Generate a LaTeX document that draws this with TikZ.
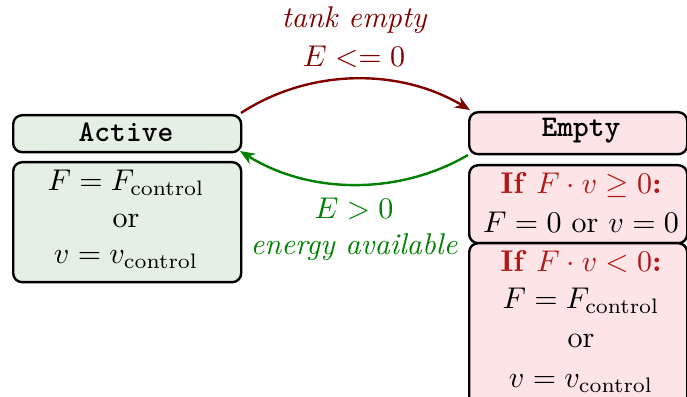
\documentclass[tikz,border=0pt]{standalone}
\usetikzlibrary{arrows.meta}
\definecolor{darkred}{RGB}{128,0,0}
\definecolor{ifred}{RGB}{178,24,24}
\definecolor{darkgreen}{RGB}{0,128,0}
\definecolor{greenfill}{RGB}{229,240,229}
\definecolor{redfill}{RGB}{253,228,230}
\def\pxu{0.3333pt}
\tikzset{
  box/.style={draw=black, line width=0.8pt, rounded corners=3pt, align=center, inner sep=0pt, anchor=north west},
  activebox/.style={box, fill=greenfill},
  emptybox/.style={box, fill=redfill},
  trans/.style={line width=0.8pt, -{Stealth[length=5pt,width=4pt]}},
  lbl/.style={inner sep=0pt, anchor=base},
}
\newcommand{\iftext}[1]{{\color{ifred}\textbf{If} $#1$\textbf{:}}}
\begin{document}
\begin{tikzpicture}[x=0.3333pt,y=-0.3333pt]
\useasboundingbox (0,0) rectangle (687,397);
% Active
\node[activebox, minimum width=228*\pxu, minimum height=37*\pxu] (acthead) at (12,114) {};
\node[lbl] (acttxt) at (126,142) {\ttfamily\bfseries Active};
\node[activebox, minimum width=228*\pxu, minimum height=120*\pxu] (actbody) at (12,161) {};
\node[lbl] (actl1) at (126,191) {$F = F_{\mathrm{control}}$};
\node[lbl] (actl2) at (126,228) {or};
\node[lbl] (actl3) at (126,264) {$v = v_{\mathrm{control}}$};
% Empty
\node[emptybox, minimum width=218*\pxu, minimum height=42*\pxu] (emphead) at (468,111) {};
\node[lbl] (emptxt) at (581,137) {\ttfamily\bfseries Empty};
\node[emptybox, minimum width=218*\pxu, minimum height=78*\pxu] (empa) at (468,164) {};
\node[lbl] (empa1) at (581,194) {\iftext{F\cdot v \geq 0}};
\node[lbl] (empa2) at (581,233) {$F = 0$ or $v = 0$};
\node[emptybox, minimum width=218*\pxu, minimum height=170*\pxu] (empb) at (468,242) {};
\node[lbl] (empb1) at (581,272) {\iftext{F\cdot v < 0}};
\node[lbl] (empb2) at (581,309) {$F = F_{\mathrm{control}}$};
\node[lbl] (empb3) at (581,348) {or};
\node[lbl] (empb4) at (581,388) {$v = v_{\mathrm{control}}$};
% transitions
\coordinate (s1) at (241,113);
\coordinate (t1) at (470,110);
\coordinate (s2) at (468,155);
\coordinate (t2) at (240,151);
\draw[trans, darkred] (s1) .. controls (310,68) and (400,68) .. (t1);
\draw[trans, darkgreen] (s2) .. controls (400,195) and (310,195) .. (t2);
\node[lbl, darkred] (l1a) at (354,28) {\itshape tank empty};
\node[lbl, darkred] (l1b) at (354,67) {$E <= 0$};
\node[lbl, darkgreen] (l2a) at (354,219) {$E > 0$};
\node[lbl, darkgreen] (l2b) at (354,255) {\itshape energy available};
\end{tikzpicture}
\end{document}
